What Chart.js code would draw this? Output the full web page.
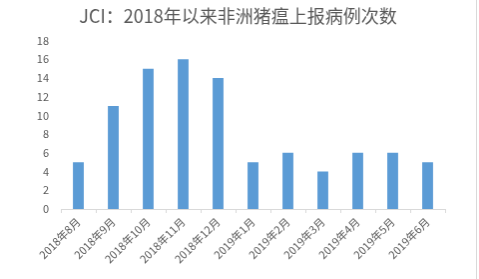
<!DOCTYPE html>
<html>
<head>
<meta charset="utf-8">
<script src="https://cdn.jsdelivr.net/npm/chart.js@4"></script>
<style>
  body { margin: 0; background: #fff; }
  canvas { display: block; border-right: 1px solid #d9d9d9; }
</style>
</head>
<body>
<canvas id="c" width="477" height="279"></canvas>
<script>
const categories = ['2018年8月', '2018年9月', '2018年10月', '2018年11月', '2018年12月', '2019年1月', '2019年2月', '2019年3月', '2019年4月', '2019年5月', '2019年6月'];
const cases = [5, 11, 15, 16, 14, 5, 6, 4, 6, 6, 5];
const yTicks = [0, 2, 4, 6, 8, 10, 12, 14, 16, 18];

const font = '"Noto Sans CJK SC", "Noto Sans", sans-serif';

const ctx = document.getElementById('c').getContext('2d');
new Chart(ctx, {
  type: 'bar',
  data: {
    labels: categories,
    datasets: [{
      label: '次数',
      data: cases,
      backgroundColor: '#5b9bd5',
      categoryPercentage: 1,
      barPercentage: 0.31,
    }],
  },
  options: {
    responsive: false,
    animation: false,
    devicePixelRatio: 1,
    layout: { padding: { left: 0, right: 0, top: 0, bottom: 4 } },
    plugins: {
      legend: { display: false },
      tooltip: { enabled: false },
      title: {
        display: true,
        text: 'JCI：2018年以来非洲猪瘟上报病例次数',
        color: '#595959',
        font: { family: font, size: 18, weight: 'normal' },
        padding: { top: 5, bottom: 14 },
      },
    },
    scales: {
      x: {
        grid: { display: true, drawOnChartArea: false, drawTicks: true, tickLength: 4, color: '#d9d9d9' },
        border: { color: '#d9d9d9' },
        ticks: {
          color: '#595959',
          font: { family: font, size: 11 },
          maxRotation: 45,
          minRotation: 45,
          autoSkip: false,
          padding: 2,
        },
        afterFit: (s) => { s.height = 66; },
      },
      y: {
        min: 0,
        max: 18,
        afterBuildTicks: (s) => { s.ticks = yTicks.map(v => ({ value: v })); },
        grid: { display: false },
        border: { display: false },
        ticks: {
          color: '#595959',
          font: { family: font, size: 11 },
          padding: 4,
        },
        afterFit: (s) => { s.width = 61; },
      },
      // empty right axis, only reserves the space on the right
      yRight: {
        position: 'right',
        display: true,
        grid: { display: false },
        border: { display: false },
        ticks: { display: false },
        afterFit: (s) => { s.width = 31; },
      },
    },
  },
});
</script>
</body>
</html>
